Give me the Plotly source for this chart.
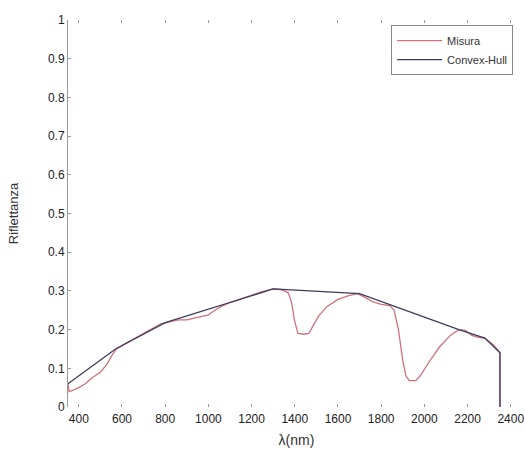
import plotly.graph_objects as go

# Reflectance spectrum (measured) and its convex hull
wl_misura = [350, 355, 380, 400, 430, 460, 500, 530, 555, 575, 620, 700, 780, 820, 860, 900,
             950, 1000, 1030, 1060, 1100, 1150, 1200, 1250, 1300, 1340, 1370, 1385, 1400,
             1415, 1440, 1465, 1480, 1510, 1550, 1600, 1650, 1690, 1730, 1760, 1800, 1840,
             1860, 1880, 1900, 1915, 1930, 1960, 1980, 2020, 2070, 2120, 2160, 2190, 2220,
             2250, 2280, 2320, 2350, 2350]
refl_misura = [0.06, 0.04, 0.045, 0.05, 0.06, 0.075, 0.09, 0.11, 0.135, 0.15, 0.165, 0.19,
               0.215, 0.22, 0.225, 0.225, 0.232, 0.238, 0.25, 0.26, 0.27, 0.28, 0.29, 0.298,
               0.305, 0.303, 0.295, 0.27, 0.22, 0.19, 0.188, 0.19, 0.205, 0.235, 0.26, 0.278,
               0.288, 0.293, 0.282, 0.272, 0.265, 0.262, 0.25, 0.2, 0.12, 0.08, 0.068, 0.068,
               0.08, 0.115, 0.155, 0.185, 0.2, 0.198, 0.185, 0.18, 0.178, 0.16, 0.14, 0.0]

wl_hull = [350, 570, 800, 1300, 1700, 2160, 2280, 2350, 2350]
refl_hull = [0.06, 0.15, 0.218, 0.305, 0.293, 0.2, 0.178, 0.14, 0.0]

x_ticks = [400, 600, 800, 1000, 1200, 1400, 1600, 1800, 2000, 2200, 2400]
y_ticks = [0, 0.1, 0.2, 0.3, 0.4, 0.5, 0.6, 0.7, 0.8, 0.9, 1]
y_labels = ["0", "0.1", "0.2", "0.3", "0.4", "0.5", "0.6", "0.7", "0.8", "0.9", "1"]

FONT = "Liberation Sans, Arial, sans-serif"
tick_font = dict(family=FONT, size=12, color="#222222")

fig = go.Figure()
fig.add_trace(go.Scatter(x=wl_misura, y=refl_misura, mode="lines", name="Misura",
                         line=dict(color="#d0707c", width=1.3)))
fig.add_trace(go.Scatter(x=wl_hull, y=refl_hull, mode="lines", name="Convex-Hull",
                         line=dict(color="#3c3c5a", width=1.3)))

fig.update_layout(
    width=525, height=459,
    margin=dict(l=68, r=0, t=20, b=52),
    paper_bgcolor="white", plot_bgcolor="white",
    font=dict(family=FONT, size=12, color="#333333"),
    showlegend=True,
    legend=dict(x=0.974, y=0.987, xanchor="right", yanchor="top",
                bordercolor="#888888", borderwidth=1, bgcolor="white",
                font=dict(family=FONT, size=11, color="#333333"),
                itemwidth=45, tracegroupgap=0),
    xaxis=dict(range=[350, 2466], tickvals=x_ticks, ticks="inside", ticklen=3,
               tickcolor="#999999", showgrid=False, zeroline=False, showline=False,
               mirror="ticks", tickfont=tick_font, ticklabelstandoff=3,
               title=dict(text="λ(nm)", font=dict(family=FONT, size=14, color="#333333"),
                          standoff=10)),
    yaxis=dict(range=[0, 1], tickvals=y_ticks, ticktext=y_labels, ticks="inside", ticklen=3,
               tickcolor="#999999", showgrid=False, zeroline=False, showline=True,
               linecolor="#999999", linewidth=1, tickfont=tick_font,
               title=dict(text="Riflettanza", font=dict(family=FONT, size=13, color="#333333"),
                          standoff=26)),
)

fig.write_html("out.html")
